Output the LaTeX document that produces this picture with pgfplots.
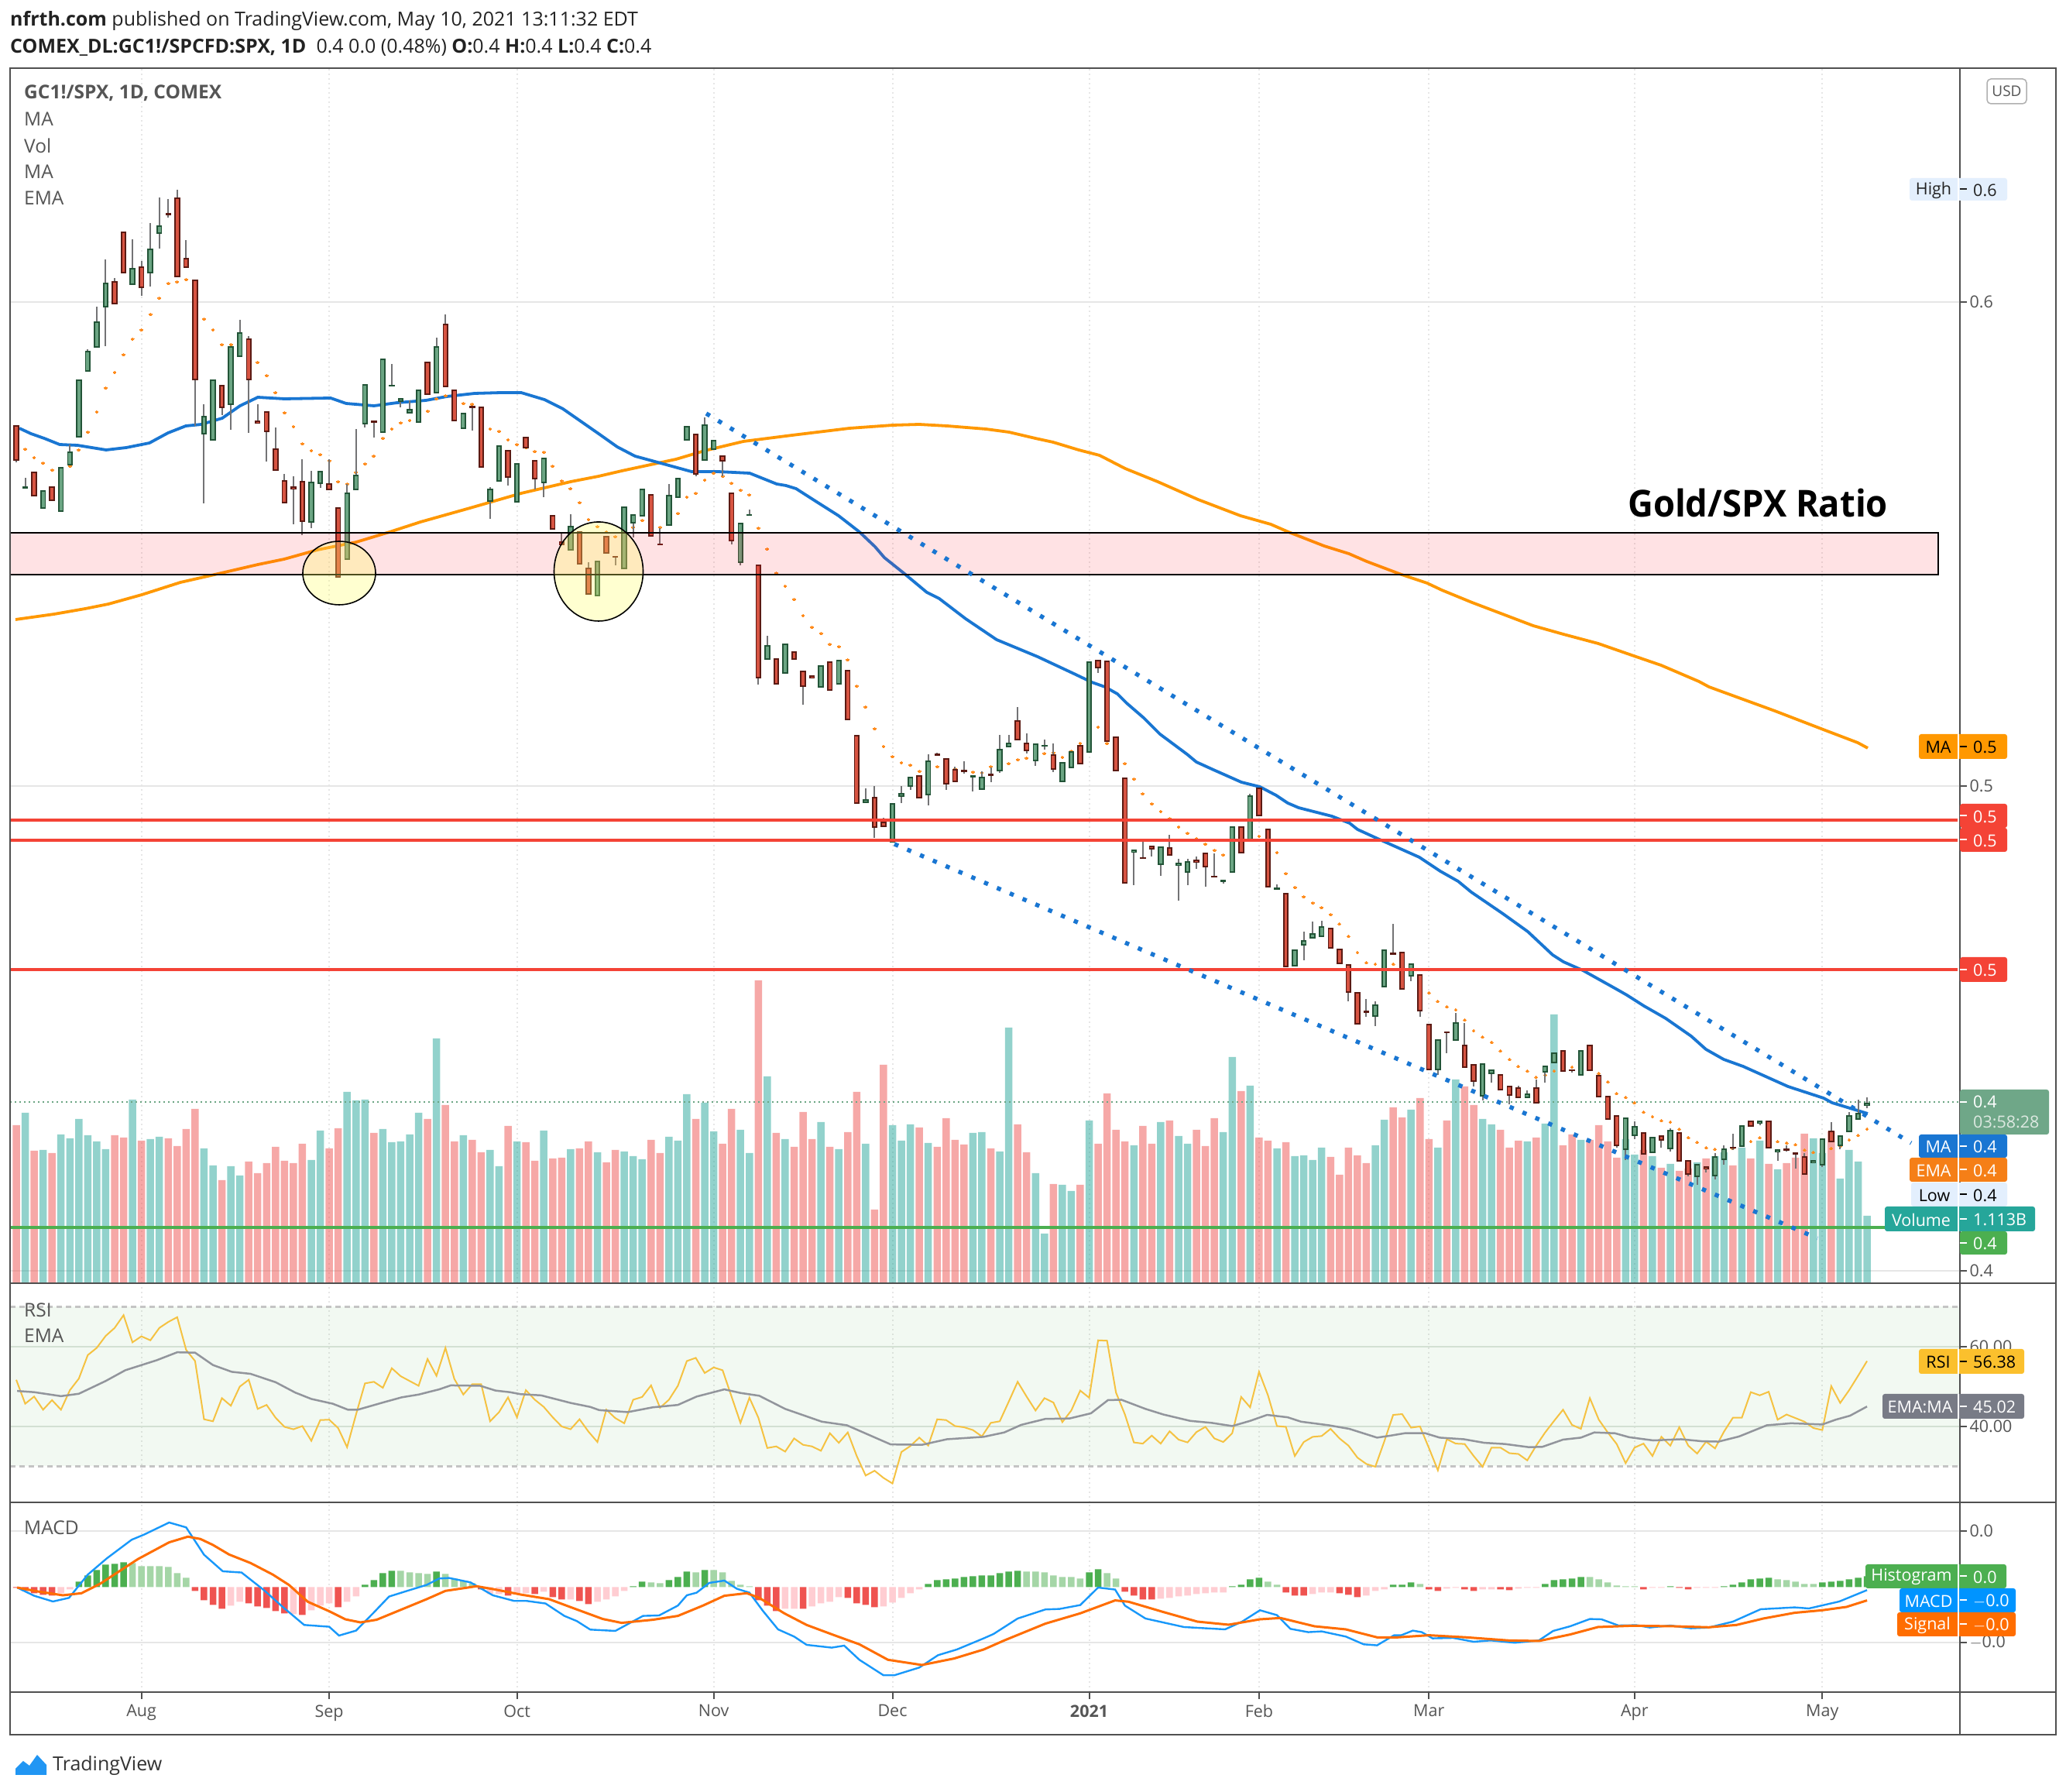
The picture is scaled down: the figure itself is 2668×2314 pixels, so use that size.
\documentclass[border=0pt]{standalone}
\usepackage{fontspec}
\setmainfont{Open Sans}
\usepackage{graphicx}
\usepackage{pgfplots}
\usepackage{pgfplotstable}
\pgfplotsset{compat=1.18}

\definecolor{framegray}{HTML}{505050}
\definecolor{gridgray}{HTML}{E6E6E6}
\definecolor{txtgray}{HTML}{555555}
\definecolor{upbody}{HTML}{6BA583}
\definecolor{upedge}{HTML}{225437}
\definecolor{dnbody}{HTML}{D75442}
\definecolor{dnedge}{HTML}{5B1A13}
\definecolor{wick}{HTML}{737375}
\definecolor{volup}{HTML}{26A69A}
\definecolor{voldn}{HTML}{EF5350}
\definecolor{tvblue}{HTML}{1976D2}
\definecolor{tvorange}{HTML}{FF9800}
\definecolor{emaorange}{HTML}{F57F17}
\definecolor{dotorange}{HTML}{FF8A1A}
\definecolor{tvred}{HTML}{F44336}
\definecolor{tvgreen}{HTML}{4CAF50}
\definecolor{lastgreen}{HTML}{6FA788}
\definecolor{rsiyellow}{HTML}{F5C242}
\definecolor{rsitag}{HTML}{FBC02D}
\definecolor{emagray}{HTML}{92959C}
\definecolor{lowblue}{HTML}{E3EFFD}
\definecolor{macdblue}{HTML}{1898FA}
\definecolor{macdtag}{HTML}{0094FF}
\definecolor{signalorange}{HTML}{FF6D00}
\definecolor{histup}{HTML}{4CAF50}
\definecolor{histuplight}{HTML}{A5D6A7}
\definecolor{histdn}{HTML}{EF5350}
\definecolor{histdnlight}{HTML}{FFCDD2}
\definecolor{bandred}{HTML}{FF2233}
\definecolor{circleyellow}{HTML}{FFFF66}
\definecolor{darktxt}{HTML}{222222}
\definecolor{timergreen}{HTML}{DCE8E0}
\definecolor{emamatag}{HTML}{787B86}
\definecolor{usdedge}{HTML}{B0B0B0}
\definecolor{logoblue}{HTML}{2196F3}
\definecolor{logotxt}{HTML}{333333}
\definecolor{rsigrid}{HTML}{DEE4DE}
\definecolor{rsidash}{HTML}{C4C4C4}

% bars: i, body top, body bottom, wick top, wick bottom, d (1 up), ema dot, volume
% price columns are in chart pixels from the top of the image, volume is bar height
\pgfplotstableread{
i t b h l d e v
0 549 595 549 597 0 nan 204
1 628 631 617 631 1 580 220
2 609 641 609 641 0 591 171
3 633 657 633 657 1 598 172
4 628 647 628 647 0 607 168
5 603 661 603 661 1 605 192
6 583 601 574 601 1 602 187
7 490 565 490 565 1 581 212
8 453 480 451 480 1 558 191
9 415 449 396 449 1 532 183
10 365 397 335 447 1 501 173
11 363 393 359 393 0 481 191
12 299 353 299 353 0 458 188
13 346 368 309 368 1 438 237
14 344 372 337 382 0 426 184
15 321 353 288 370 1 406 186
16 291 302 255 321 1 385 189
17 275 278 257 281 0 366 187
18 255 358 245 358 0 364 177
19 333 346 310 346 0 361 199
20 361 491 361 550 0 385 225
21 537 561 522 650 1 412 174
22 490 569 490 569 1 426 152
23 497 527 497 536 0 445 133
24 447 523 447 555 1 445 151
25 429 461 413 461 1 450 139
26 437 491 434 559 0 458 157
27 543 547 522 547 0 468 142
28 531 558 531 596 0 485 155
29 579 608 552 608 0 507 176
30 620 650 612 650 0 533 158
31 628 632 615 677 0 551 155
32 621 674 593 691 0 573 180
33 622 675 608 682 1 582 159
34 608 625 608 630 1 587 197
35 624 633 593 633 0 595 174
36 655 746 655 746 0 622 200
37 636 723 625 723 1 625 247
38 613 633 554 633 1 610 236
39 496 548 496 552 1 599 237
40 543 546 543 565 0 589 194
41 463 559 463 559 1 566 199
42 497 499 470 499 1 554 182
43 514 519 514 526 1 546 183
44 528 534 517 534 1 543 192
45 503 546 503 546 1 530 220
46 467 510 467 510 0 531 212
47 447 508 436 508 1 515 316
48 418 500 406 500 0 511 230
49 503 544 503 544 0 515 183
50 533 554 533 554 1 521 191
51 524 527 524 556 0 522 185
52 525 604 525 604 0 545 169
53 631 648 629 670 1 554 172
54 575 622 575 622 1 557 151
55 581 617 581 627 0 568 203
56 598 649 598 649 1 574 183
57 564 579 564 579 0 578 182
58 594 619 594 632 0 583 158
59 591 624 591 642 1 584 197
60 665 684 665 684 0 602 161
61 699 704 687 704 0 621 162
62 679 711 664 711 1 631 173
63 686 729 686 729 0 649 174
64 733 768 726 768 0 671 183
65 724 770 724 770 1 680 169
66 692 715 692 715 0 687 156
67 718 720 718 730 0 693 172
68 654 735 654 735 1 688 170
69 664 676 664 694 1 681 164
70 631 667 631 667 1 672 160
71 638 693 638 693 0 675 185
72 702 704 682 704 0 681 168
73 639 679 625 679 1 670 189
74 617 643 617 643 1 663 184
75 550 569 550 569 1 642 244
76 560 613 560 615 0 637 212
77 548 595 539 595 1 620 233
78 568 581 568 581 1 611 196
79 588 596 588 615 0 615 180
80 636 699 636 703 0 624 225
81 675 727 675 730 1 633 198
82 664 666 658 666 1 639 168
83 729 876 729 884 0 682 391
84 833 852 821 852 1 709 267
85 850 884 850 884 0 740 194
86 831 870 831 870 1 757 186
87 841 852 841 852 0 774 176
88 866 887 866 910 0 795 221
89 872 876 872 876 0 810 186
90 859 888 859 888 1 818 208
91 854 892 854 892 0 832 176
92 852 884 852 884 1 835 173
93 865 930 865 930 0 852 195
94 949 1038 949 1038 0 886 247
95 1032 1037 1018 1037 1 913 180
96 1029 1069 1015 1082 0 941 95
97 1061 1068 1056 1068 0 964 282
98 1037 1088 1037 1088 1 977 204
99 1024 1029 1015 1037 1 985 184
100 1003 1016 1003 1020 1 988 205
101 1001 1031 1001 1031 0 996 201
102 982 1027 974 1040 1 990 181
103 974 975 972 975 0 990 176
104 979 1013 979 1020 0 988 213
105 993 1010 990 1010 0 993 185
106 995 996 983 999 0 995 179
107 1002 1003 1002 1022 1 997 194
108 1003 1020 996 1020 1 998 195
109 1000 1001 991 1010 0 990 174
110 967 996 949 998 1 985 170
111 959 965 949 965 1 986 330
112 930 956 913 956 0 981 205
113 959 970 947 973 0 979 169
114 960 983 960 989 1 975 142
115 962 964 955 968 1 973 64
116 974 994 960 997 0 972 128
117 984 1010 984 1010 1 978 127
118 970 992 970 992 1 970 119
119 962 987 962 987 0 960 127
120 854 972 854 972 1 945 210
121 852 863 852 869 0 939 180
122 853 958 853 958 0 960 245
123 951 996 951 996 0 975 198
124 1004 1141 1004 1141 0 986 183
125 1097 1101 1097 1143 1 1006 178
126 1107 1109 1087 1109 0 1025 203
127 1092 1097 1092 1106 0 1038 180
128 1093 1117 1093 1131 1 1048 208
129 1094 1105 1078 1105 0 1057 210
130 1114 1118 1109 1163 1 1068 190
131 1112 1127 1109 1143 1 1076 180
132 1110 1114 1106 1122 0 1083 198
133 1101 1120 1101 1145 0 1090 177
134 1131 1133 1102 1133 0 1098 213
135 1136 1139 1136 1141 1 1104 195
136 1067 1127 1067 1127 1 1095 292
137 1067 1102 1067 1102 0 1090 248
138 1027 1087 1025 1087 1 1085 255
139 1017 1054 1017 1054 0 1080 188
140 1070 1146 1070 1146 0 1095 184
141 1147 1148 1142 1148 1 1101 174
142 1153 1249 1153 1249 0 1128 182
143 1226 1248 1226 1248 1 1146 164
144 1214 1221 1203 1240 1 1158 165
145 1205 1212 1190 1212 1 1166 159
146 1196 1210 1189 1210 1 1172 175
147 1198 1225 1198 1225 0 1181 163
148 1225 1245 1225 1245 0 1193 140
149 1245 1282 1245 1293 0 1209 175
150 1281 1323 1281 1323 0 1230 165
151 1306 1307 1290 1313 0 1243 155
152 1297 1313 1293 1325 1 1245 178
153 1226 1275 1226 1275 1 1240 211
154 1230 1233 1193 1233 0 1245 227
155 1229 1278 1229 1278 0 1250 214
156 1244 1261 1244 1267 1 1255 224
157 1258 1306 1258 1313 0 1265 239
158 1322 1382 1322 1382 0 1282 186
159 1342 1382 1342 1388 1 1293 175
160 1332 1334 1332 1360 0 1300 210
161 1320 1344 1308 1344 1 1304 263
162 1349 1379 1321 1379 0 1317 254
163 1374 1397 1374 1403 0 1331 230
164 1373 1416 1373 1421 1 1339 212
165 1381 1387 1381 1398 1 1346 205
166 1387 1408 1387 1408 0 1357 198
167 1402 1415 1402 1426 0 1368 175
168 1404 1418 1402 1418 0 1377 184
169 1412 1418 1408 1418 1 1383 183
170 1404 1425 1394 1425 0 1391 188
171 1376 1385 1376 1398 1 1388 206
172 1359 1373 1359 1373 1 1383 347
173 1356 1384 1356 1384 0 1370 178
174 1381 1383 1381 1385 0 1378 192
175 1356 1389 1356 1389 1 1375 185
176 1349 1383 1349 1383 0 1370 185
177 1388 1417 1388 1417 0 1386 204
178 1415 1446 1415 1446 0 1397 183
179 1440 1480 1440 1482 0 1412 162
180 1443 1485 1443 1498 1 1417 186
181 1454 1467 1448 1471 1 1424 166
182 1462 1491 1462 1491 0 1436 172
183 1468 1489 1468 1489 1 1442 164
184 1466 1473 1466 1482 0 1447 149
185 1459 1484 1457 1487 1 1449 154
186 1462 1500 1462 1500 0 1458 145
187 1498 1517 1498 1519 0 1469 148
188 1503 1520 1503 1530 1 1475 156
189 1506 1510 1506 1514 0 1482 161
190 1493 1519 1489 1523 1 1484 164
191 1483 1498 1479 1504 1 1485 169
192 1481 1483 1464 1485 0 1483 152
193 1453 1481 1453 1481 1 1475 175
194 1447 1455 1447 1455 0 1474 161
195 1447 1451 1447 1453 1 1469 184
196 1447 1483 1447 1483 0 1465 154
197 1484 1488 1484 1499 1 1474 147
198 1483 1486 1479 1487 0 1476 155
199 1488 1491 1488 1509 0 1478 162
200 1493 1517 1489 1517 0 1485 193
201 1498 1502 1498 1502 1 1488 187
202 1470 1505 1470 1507 1 1490 168
203 1460 1475 1449 1475 0 1483 196
204 1466 1480 1466 1484 1 1480 135
205 1440 1462 1436 1462 1 1472 172
206 1437 1446 1420 1446 1 1466 157
207 1424 1428 1417 1431 1 1458 87
}\bars

% oscillators per bar: i, RSI, MACD histogram height, k (0 dark green, 1 light green, 2 dark red, 3 light red)
\pgfplotstableread{
i r q k
0 51.7 -1 2
1 45.7 -5 2
2 47.5 -8 2
3 44.2 -10 2
4 46.6 -11 2
5 44.2 -8 3
6 49.1 -3 3
7 52.0 7 0
8 57.9 15 0
9 59.7 22 0
10 62.7 29 0
11 64.7 30 0
12 67.9 32 0
13 61.1 31 1
14 62.6 27 1
15 61.6 27 1
16 64.7 27 1
17 66.2 26 1
18 67.4 18 1
19 59.2 12 1
20 56.4 -5 2
21 41.8 -17 2
22 41.3 -23 2
23 47.1 -28 2
24 45.2 -24 3
25 50.0 -19 3
26 51.7 -21 2
27 44.4 -25 2
28 45.4 -27 2
29 42.2 -31 2
30 39.9 -34 2
31 39.3 -35 3
32 40.1 -36 2
33 36.4 -30 3
34 41.6 -24 3
35 41.7 -21 3
36 39.6 -26 2
37 34.8 -19 3
38 43.0 -12 3
39 50.8 3 0
40 51.2 9 0
41 49.7 18 0
42 54.6 21 0
43 52.6 21 1
44 51.4 19 1
45 50.2 18 1
46 56.9 17 1
47 52.7 20 0
48 59.7 17 1
49 51.9 11 1
50 48.0 8 1
51 50.6 5 1
52 50.6 -3 2
53 41.3 -9 3
54 43.6 -9 3
55 47.3 -11 2
56 42.3 -8 3
57 49.1 -8 3
58 46.7 -9 2
59 44.9 -6 3
60 42.3 -13 2
61 40.0 -16 2
62 39.3 -16 3
63 41.8 -18 2
64 38.7 -22 2
65 36.1 -19 3
66 44.2 -16 3
67 42.1 -12 3
68 40.8 -5 3
69 46.7 1 0
70 47.4 7 0
71 50.3 6 1
72 44.7 5 1
73 46.7 9 0
74 50.2 13 0
75 56.4 20 0
76 57.2 19 1
77 53.4 22 0
78 54.8 22 1
79 54.1 19 1
80 47.5 8 1
81 40.9 3 1
82 47.2 1 1
83 42.2 -17 2
84 34.6 -24 2
85 35.0 -31 2
86 33.7 -28 3
87 37.0 -28 3
88 35.4 -28 2
89 35.0 -25 3
90 33.9 -21 3
91 38.3 -19 3
92 35.9 -13 3
93 38.5 -14 2
94 32.6 -21 2
95 27.7 -23 2
96 28.9 -26 2
97 27.1 -25 3
98 25.7 -20 3
99 33.6 -14 3
100 35.1 -8 3
101 37.2 -3 3
102 35.2 4 0
103 41.8 9 0
104 41.6 10 0
105 40.1 11 0
106 39.8 13 0
107 39.1 14 0
108 37.5 15 0
109 40.9 15 0
110 41.3 18 0
111 46.2 20 0
112 51.2 21 0
113 47.5 20 1
114 44.0 20 1
115 47.1 19 1
116 46.0 15 1
117 41.1 13 1
118 44.0 13 1
119 49.0 11 1
120 47.2 19 0
121 61.6 23 0
122 61.5 18 1
123 48.5 11 1
124 43.0 -6 2
125 36.0 -11 2
126 35.7 -16 2
127 37.7 -16 2
128 35.7 -15 3
129 38.8 -14 3
130 36.7 -12 3
131 36.0 -11 3
132 38.6 -9 3
133 39.9 -8 3
134 37.0 -7 3
135 36.1 -7 3
136 38.3 1 0
137 47.4 3 0
138 44.8 10 0
139 53.7 12 0
140 47.8 7 1
141 40.1 3 1
142 39.9 -7 2
143 32.6 -11 2
144 36.1 -11 2
145 37.4 -9 3
146 37.6 -7 3
147 39.4 -7 3
148 37.0 -8 2
149 35.2 -10 2
150 32.2 -13 2
151 30.6 -11 3
152 29.9 -5 3
153 36.2 -3 3
154 42.9 3 0
155 43.1 3 0
156 39.7 6 0
157 40.0 4 1
158 34.6 -3 2
159 29.0 -5 2
160 36.8 -2 3
161 35.7 -1 3
162 35.6 -3 2
163 32.6 -5 2
164 29.9 -3 3
165 34.7 -3 3
166 34.7 -3 2
167 33.3 -4 2
168 33.1 -2 3
169 31.5 -1 3
170 35.2 -1 3
171 38.5 4 0
172 41.4 9 0
173 44.2 10 0
174 40.4 11 0
175 39.4 13 0
176 47.1 13 1
177 41.7 10 1
178 38.5 6 1
179 35.6 2 1
180 30.8 1 1
181 34.7 1 1
182 35.7 -3 2
183 32.6 -1 3
184 37.4 -1 3
185 35.2 1 0
186 39.8 -1 2
187 35.2 -3 2
188 33.2 -1 3
189 36.2 -1 3
190 34.5 -1 3
191 38.7 1 0
192 42.2 3 0
193 42.2 6 0
194 48.6 10 0
195 47.8 11 0
196 48.7 12 0
197 41.7 10 1
198 43.0 9 1
199 42.1 7 1
200 41.2 4 1
201 39.6 4 1
202 39.1 6 0
203 50.1 7 0
204 45.9 8 0
205 49.1 10 0
206 52.7 12 0
207 56.4 14 0
}\osc

% lines read at x in image pixels, converted to bar index when plotted
\pgfplotstableread{
x y
25 553
40 560
57 566
77 574
100 575
137 581
163 578
193 572
217 559
240 550
260 548
287 540
310 524
333 513
367 515
427 514
447 521
483 524
513 520
550 517
577 512
613 508
647 507
673 507
703 516
727 528
773 560
797 577
820 589
853 598
893 609
927 609
968 611
1003 625
1015 627
1028 631
1053 647
1083 666
1110 687
1130 706
1142 720
1167 740
1197 765
1213 773
1247 799
1287 826
1340 848
1387 870
1410 881
1427 887
1443 896
1455 908
1477 927
1498 948
1533 974
1545 984
1567 994
1603 1010
1627 1016
1648 1027
1663 1037
1677 1043
1720 1054
1743 1063
1753 1071
1777 1082
1833 1107
1860 1125
1883 1138
1900 1152
1941 1180
1973 1203
2005 1233
2019 1242
2044 1253
2087 1277
2101 1285
2123 1299
2151 1315
2184 1338
2203 1355
2226 1368
2251 1377
2309 1403
2355 1418
2366 1424
2412 1438
}\mashort

\pgfplotstableread{
x y
20 800
70 793
110 786
140 780
183 768
233 752
277 742
333 729
367 722
410 710
460 700
503 687
543 674
607 656
673 637
737 622
773 615
803 608
873 593
910 582
960 570
1023 562
1097 553
1153 549
1187 548
1223 550
1273 554
1303 558
1337 566
1360 571
1393 581
1420 588
1453 605
1495 622
1547 645
1602 666
1641 677
1664 687
1710 705
1742 715
1765 725
1810 742
1843 753
1862 762
1901 778
1980 808
2019 819
2064 831
2110 847
2145 859
2194 880
2207 887
2292 918
2357 943
2399 959
2412 966
}\malong

% EMA of RSI, x is bar index
\pgfplotstableread{
x y
0.1 48.9
2 48.6
5 47.6
7 48.2
10 51.4
12.2 54.1
15.7 56.6
18 58.6
20 58.5
22 55.4
24.1 53.7
26.2 53.2
29 51.1
31.2 48.5
33 46.9
35.4 45.7
37.1 44.2
38.2 44.2
41 46.0
43.1 47.3
45 48.0
47.3 49.3
48.6 50.3
51.9 50.2
53.6 49.0
55.2 48.6
56.4 48.1
58.7 47.8
62 45.9
64.2 44.9
65.2 44.1
68.4 43.6
71.2 44.8
74 45.4
76.1 47.5
79.2 49.3
81 48.4
83.1 47.7
86 44.4
90.1 41.2
92.9 40.3
97.8 35.5
101.3 35.4
104.1 36.8
108.2 37.4
110.5 38.5
112.4 40.4
115.1 41.9
117.8 42.0
120.2 43.3
122.1 46.6
123.6 46.7
126.3 44.4
128.3 43.0
131.3 41.4
133.7 40.9
136 40.1
138 41.4
139.9 42.9
142.2 42.3
143.7 41.2
146.8 40.3
149.1 39.4
152.2 37.2
153.7 37.7
155.3 38.3
157.6 38.3
159.2 37.2
161.9 36.8
164.2 35.9
166.5 35.6
169.2 34.8
170.7 34.9
173 36.7
175 37.2
176.5 38.5
178.8 38.3
180.4 37.3
183.1 36.5
186.2 36.8
188.5 36.3
190.4 36.2
192.7 37.5
195.8 40.3
198.5 40.8
202 40.5
203.5 41.7
205.1 42.7
207 45.0
}\rsiema

% MACD and signal, height above the zero line
\pgfplotstableread{
x y
0.1 -0.7
2 -11.3
4.1 -18.7
5.9 -14
8 16
10.1 36.7
12.9 61
14.3 67.7
17.1 83.3
19 77
21 41.7
23.1 20.3
25.2 18.7
27.7 -4
29.8 -25.7
32.2 -49
35 -51.3
36.1 -62.7
38 -56.3
39.9 -34
41.7 -12.3
43.8 -4.7
45.9 2.7
47.3 11
48.4 11.7
50.8 6
53.3 -10.7
55.7 -18
57.1 -18
59.2 -21.3
61.3 -37.3
62.7 -44
64.2 -55
67 -56.7
70.1 -37.3
71.9 -36.7
74 -24
75 -10.7
76.1 -7.3
77.5 5.3
79.2 8.3
80.6 -2.3
82 -7.3
83.5 -30.7
85.2 -54.7
87 -64
88.4 -74.7
91.2 -78.3
92.6 -75.7
94.3 -94
97 -114
98.2 -114
101 -104
103.1 -88
105.2 -80.7
108.2 -66.3
109.3 -60.7
112 -40.7
115.1 -29
116.7 -28.3
119 -23.3
121 -0.7
122.9 -3.3
124 -24
126.3 -40.7
130.6 -51.7
135.2 -54.7
137.1 -44.7
139.1 -30
141 -36.3
142.5 -54
144.5 -58.3
146 -57.3
148.7 -64
150.7 -74
152.2 -75.3
154.1 -62.3
154.9 -62.3
156.2 -56.3
157.2 -58.3
158.4 -66.3
160.7 -65.7
163 -70.7
164.9 -69
167.6 -72
170.3 -69
171.9 -56.7
173.8 -50.7
176 -41.3
177.3 -41.7
179.2 -49.7
181.2 -49.3
182.7 -52.3
185 -49.7
187.3 -53.3
189.3 -52.3
192 -44.7
195.1 -28.7
198.9 -26.3
200.5 -27.7
203.9 -18.7
207 -4
}\macdline

\pgfplotstableread{
x y
0.1 -0.7
2.4 -5.7
5.2 -10.7
7.3 -8
9.4 4.3
13.6 36
17.1 57.7
19.2 65
20.6 62
22 54.3
23.8 42
26.2 31
28.7 16
30.5 2.7
32.6 -19
35 -31.3
36.8 -41.7
38.5 -45.7
40.3 -42.3
43.1 -29
45.9 -15.7
48 -5
51.5 1
53.6 -3.3
56.4 -9.7
59.6 -15.7
62.7 -29
65.6 -41.3
67.7 -46.3
71.2 -42.3
74 -37.3
76.8 -24
79.2 -11.3
81.7 -8
83.1 -14
85.9 -34
88.4 -49
91.5 -62.3
94.3 -74
97.5 -94
101.3 -100.7
104.9 -92.3
108.2 -80.7
110.5 -69
115.1 -47.3
119 -34
122.9 -17.3
124.4 -19
128.3 -32.3
132.1 -44.7
135.6 -48.7
139.1 -41.7
141.4 -40
145.2 -50.7
148.7 -54.7
152.2 -65
154.5 -65
158 -62.3
162.2 -65
166.9 -69
170.3 -69.7
173.8 -61.3
176.9 -51.7
180.8 -50
185.4 -50.7
189.3 -52
192.4 -49
195.4 -40.7
198.9 -33.3
202 -30
204.7 -25.7
207 -17.3
}\signalline

\pgfplotsset{
  pane/.style={
    scale only axis, width=2518pt,
    xmin=-0.693, xmax=217.39,
    xtick={14,35,56,78,98,120,139,158,181,202},
    xticklabels={},
    xmajorgrids, ymajorgrids,
    x grid style={gridgray, line width=2pt, dash pattern=on 2pt off 4pt},
    y grid style={gridgray, line width=2pt},
    axis line style={draw=none},
    ytick pos=right, tick align=outside,
    major tick length=9pt,
    ytick style={draw=framegray, line width=2pt},
    tick label style={font=\fontsize{21.5}{25}\selectfont, text=txtgray},
  },
  overlay pane/.style={
    scale only axis, width=2518pt, height=1569pt,
    at={(13pt,657pt)}, anchor=south west,
    xmin=-0.693, xmax=217.39,
    ymin=88, ymax=1657, y dir=reverse,
    hide axis, clip mode=individual,
  },
}

\newcommand\pxline[2]{\addplot[#1] table[x expr={(\thisrow{x}-21)/11.546}, y=y] {#2};}
% one candle layer: direction, colour, width, half height
\newcommand\candle[4]{\addplot[draw=none, mark=none,
    restrict expr to domain={\thisrow{d}}{#1:#1},
    error bars/.cd, y dir=both, y explicit, error mark=none,
    error bar style={color=#2, line width=#3}]
  table[x=i, y expr={(\thisrow{t}+\thisrow{b})/2}, y error expr={#4}] {\bars};}
% price tag on the right scale: fill, x0, x1, y0, y1, name, value, text colour
\newcommand\tvtag[8]{%
  \fill[#1, rounded corners=3pt] (#2,#4) rectangle (#3,#5);
  \draw[white, line width=1.5pt] (2529,#4) -- (2529,#5);
  \draw[#8, line width=2pt] (2531,{(#4+#5)/2}) -- (2540,{(#4+#5)/2});
  \node[text=#8, anchor=center, inner sep=0pt] at ({(#2+2528)/2},{(#4+#5)/2+1}) {\fontsize{21.5}{25}\selectfont #6};
  \node[text=#8, anchor=west, inner sep=0pt] at (2548,{(#4+#5)/2+1}) {\fontsize{21.5}{25}\selectfont #7};
}

\begin{document}
\begin{tikzpicture}
\useasboundingbox (0,0) rectangle (2668pt,2314pt);
\fill[white] (0,0) rectangle (2668pt,2314pt);

% volume pane carries the grid and the price scale (its ticks sit at the price levels)
\begin{axis}[pane, xtick style={draw=none}, at={(13pt,657pt)}, anchor=south west, height=1569pt,
    ymin=0, ymax=1569, ytick={16,642,1267}, yticklabels={0.4,0.5,0.6}, ybar, bar width=9.5pt]
  \addplot[draw=none, fill=volup, fill opacity=0.5, bar shift=0pt,
    restrict expr to domain={\thisrow{d}}{1:1}] table[x=i, y=v] {\bars};
  \addplot[draw=none, fill=voldn, fill opacity=0.5, bar shift=0pt,
    restrict expr to domain={\thisrow{d}}{0:0}] table[x=i, y=v] {\bars};
\end{axis}

% candles, moving averages and levels
\begin{axis}[overlay pane]
  \addplot[tvgreen, line width=3.6pt] coordinates {(-0.693,1585) (217.39,1585)};
  \addplot[upbody, line width=2pt, dash pattern=on 2pt off 4pt] coordinates {(-0.693,1423) (217.39,1423)};
  \pxline{tvorange, line width=3.8pt}{\malong}
  \pxline{tvblue, line width=3.8pt}{\mashort}
  \addplot[only marks, color=dotorange, mark=*, mark size=1.9pt,
    mark options={fill=dotorange, draw=dotorange, line width=0pt}] table[x=i, y=e] {\bars};
  \addplot[draw=none, mark=none, error bars/.cd, y dir=both, y explicit, error mark=none,
      error bar style={color=wick, line width=2pt}]
    table[x=i, y expr={(\thisrow{h}+\thisrow{l})/2}, y error expr={(\thisrow{l}-\thisrow{h})/2}] {\bars};
  \candle{1}{upedge}{7.4pt}{max((\thisrow{b}-\thisrow{t})/2,1.2)}
  \candle{0}{dnedge}{7.4pt}{max((\thisrow{b}-\thisrow{t})/2,1.2)}
  \candle{1}{upbody}{3.8pt}{max((\thisrow{b}-\thisrow{t})/2-1.8,0)}
  \candle{0}{dnbody}{3.8pt}{max((\thisrow{b}-\thisrow{t})/2-1.8,0)}
  \addplot[tvred, line width=3.4pt] coordinates {(-0.693,1059) (217.39,1059)};
  \addplot[tvred, line width=3.4pt] coordinates {(-0.693,1085) (217.39,1085)};
  \addplot[tvred, line width=3.4pt] coordinates {(-0.693,1252) (217.39,1252)};
\end{axis}

% RSI pane
\begin{axis}[pane, xtick style={draw=none}, at={(13pt,374pt)}, anchor=south west, height=283pt,
    ymin=20.97, ymax=75.92, ytick={40,60}, yticklabels={40.00,60.00}, clip mode=individual,
    y grid style={rsigrid, line width=2pt}]
  \fill[tvgreen, fill opacity=0.07] (axis cs:-0.693,30) rectangle (axis cs:217.39,70);
  \draw[rsidash, line width=2.4pt, dash pattern=on 7pt off 5pt] (axis cs:-0.693,70) -- (axis cs:217.39,70);
  \draw[rsidash, line width=2.4pt, dash pattern=on 7pt off 5pt] (axis cs:-0.693,30) -- (axis cs:217.39,30);
  \addplot[rsiyellow, line width=2pt] table[x=i, y=r] {\osc};
  \addplot[emagray, line width=2.5pt] table[x=x, y=y] {\rsiema};
\end{axis}

% MACD pane
\begin{axis}[pane, at={(13pt,129pt)}, anchor=south west, height=245pt,
    ymin=-135.7, ymax=109.3, ytick={-71.7,72.3}, yticklabels={$-$0.0,0.0}, ybar, bar width=8.5pt,
    xticklabels={Aug,Sep,Oct,Nov,Dec,\textbf{2021},Feb,Mar,Apr,May},
    xtick style={draw=framegray, line width=2pt}, xtick pos=bottom,
    xticklabel style={yshift=-4pt}]
  \addplot[draw=none, fill=histup, bar shift=0pt, restrict expr to domain={\thisrow{k}}{0:0}] table[x=i, y=q] {\osc};
  \addplot[draw=none, fill=histuplight, bar shift=0pt, restrict expr to domain={\thisrow{k}}{1:1}] table[x=i, y=q] {\osc};
  \addplot[draw=none, fill=histdn, bar shift=0pt, restrict expr to domain={\thisrow{k}}{2:2}] table[x=i, y=q] {\osc};
  \addplot[draw=none, fill=histdnlight, bar shift=0pt, restrict expr to domain={\thisrow{k}}{3:3}] table[x=i, y=q] {\osc};
  \addplot[sharp plot, macdblue, line width=2.4pt] table[x=x, y=y] {\macdline};
  \addplot[sharp plot, signalorange, line width=3pt] table[x=x, y=y] {\signalline};
\end{axis}

% annotations in image pixels, y running downwards
\begin{scope}[shift={(0pt,2314pt)}, x=1pt, y=-1pt]
  \fill[bandred, fill opacity=0.13] (13,688) rectangle (2503,742);
  \draw[black, line width=2.5pt] (13,688) -- (2503,688) -- (2503,742) -- (13,742);
  \draw[black, line width=1.6pt, fill=circleyellow, fill opacity=0.3, draw opacity=1] (438,740) ellipse [x radius=47, y radius=41];
  \draw[black, line width=1.6pt, fill=circleyellow, fill opacity=0.3, draw opacity=1] (773,738) ellipse [x radius=57.5, y radius=64];
  \draw[tvblue, line width=5.5pt, dash pattern=on 5.5pt off 12.5pt] (912,534) -- (2468,1476);
  \draw[tvblue, line width=5.5pt, dash pattern=on 5.5pt off 12.5pt] (1155,1090) -- (2347,1599);

  \node[anchor=west, inner sep=0pt, text=black] at (2102,650) {\scalebox{0.945}[1]{\fontsize{48}{56}\selectfont\bfseries Gold/SPX Ratio}};

  % header
  \node[anchor=west, inner sep=0pt, text=darktxt] at (13,27) {\fontsize{25}{30}\selectfont\textbf{nfrth.com} published on TradingView.com, May 10, 2021 13:11:32 EDT};
  \node[anchor=west, inner sep=0pt, text=darktxt] at (13,61) {\fontsize{25}{30}\selectfont\textbf{COMEX\_DL:GC1!/SPCFD:SPX, 1D}\ \ 0.4 0.0 (0.48\%) \textbf{O:}0.4 \textbf{H:}0.4 \textbf{L:}0.4 \textbf{C:}0.4};

  % pane legends
  \node[anchor=west, inner sep=0pt, text=txtgray] at (31,120) {\fontsize{24.5}{28}\selectfont\bfseries GC1!/SPX, 1D, COMEX};
  \node[anchor=west, inner sep=0pt, text=txtgray] at (31,154) {\fontsize{24.5}{28}\selectfont MA};
  \node[anchor=west, inner sep=0pt, text=txtgray] at (31,188) {\fontsize{24.5}{28}\selectfont Vol};
  \node[anchor=west, inner sep=0pt, text=txtgray] at (31,222) {\fontsize{24.5}{28}\selectfont MA};
  \node[anchor=west, inner sep=0pt, text=txtgray] at (31,256) {\fontsize{24.5}{28}\selectfont EMA};
  \node[anchor=west, inner sep=0pt, text=txtgray] at (31,1692) {\fontsize{24.5}{28}\selectfont RSI};
  \node[anchor=west, inner sep=0pt, text=txtgray] at (31,1725) {\fontsize{24.5}{28}\selectfont EMA};
  \node[anchor=west, inner sep=0pt, text=txtgray] at (31,1973) {\fontsize{24.5}{28}\selectfont MACD};

  % frame
  \draw[framegray, line width=2pt] (13,88) rectangle (2655,2240);
  \draw[framegray, line width=2pt] (2531,88) -- (2531,2240);
  \draw[framegray, line width=2.5pt] (13,1657) -- (2655,1657);
  \draw[framegray, line width=2.5pt] (13,1940) -- (2655,1940);
  \draw[framegray, line width=2.5pt] (13,2185) -- (2655,2185);

  % right scale tags
  \tvtag{lowblue}{2466}{2592}{230}{259}{High}{0.6}{darktxt}
  \tvtag{tvorange}{2478}{2592}{948}{980}{MA}{0.5}{black}
  \tvtag{tvred}{2531}{2592}{1038}{1069}{}{0.5}{white}
  \tvtag{tvred}{2531}{2592}{1069}{1100}{}{0.5}{white}
  \tvtag{tvred}{2531}{2592}{1236}{1268}{}{0.5}{white}
  \fill[lastgreen, rounded corners=3pt] (2531,1407) rectangle (2646,1465);
  \draw[white, line width=2pt] (2531,1423) -- (2540,1423);
  \node[text=white, anchor=west, inner sep=0pt] at (2548,1423) {\fontsize{21.5}{25}\selectfont 0.4};
  \node[text=timergreen, anchor=west, inner sep=0pt] at (2548,1449) {\fontsize{21.5}{25}\selectfont 03:58:28};
  \tvtag{tvblue}{2478}{2592}{1465}{1495}{MA}{0.4}{white}
  \tvtag{emaorange}{2466}{2592}{1495}{1526}{EMA}{0.4}{white}
  \tvtag{lowblue}{2468}{2592}{1527}{1558}{Low}{0.4}{black}
  \tvtag{volup}{2434}{2628}{1558}{1590}{Volume}{1.113B}{white}
  \tvtag{tvgreen}{2531}{2592}{1590}{1620}{}{0.4}{white}
  \tvtag{rsitag}{2478}{2614}{1742}{1774}{RSI}{56.38}{black}
  \tvtag{emamatag}{2431}{2614}{1800}{1832}{EMA:MA}{45.02}{white}
  \tvtag{tvgreen}{2409}{2591}{2020}{2051}{Histogram}{0.0}{white}
  \tvtag{macdtag}{2453}{2603}{2051}{2082}{MACD}{$-$0.0}{white}
  \tvtag{signalorange}{2450}{2603}{2082}{2113}{Signal}{$-$0.0}{white}

  % currency box
  \draw[usdedge, line width=1.5pt, rounded corners=5pt, fill=white] (2566,102) rectangle (2617,134);
  \node[text=txtgray, inner sep=0pt] at (2591.5,118) {\fontsize{19}{23}\selectfont USD};

  % footer logo
  \fill[logoblue] (20,2292) -- (20,2284) -- (30,2274) -- (38,2280) -- (48,2266) -- (60,2279) -- (60,2292) -- cycle;
  \node[anchor=west, inner sep=0pt, text=logotxt] at (68,2280) {\fontsize{25}{30}\selectfont TradingView};
\end{scope}
\end{tikzpicture}
\end{document}
